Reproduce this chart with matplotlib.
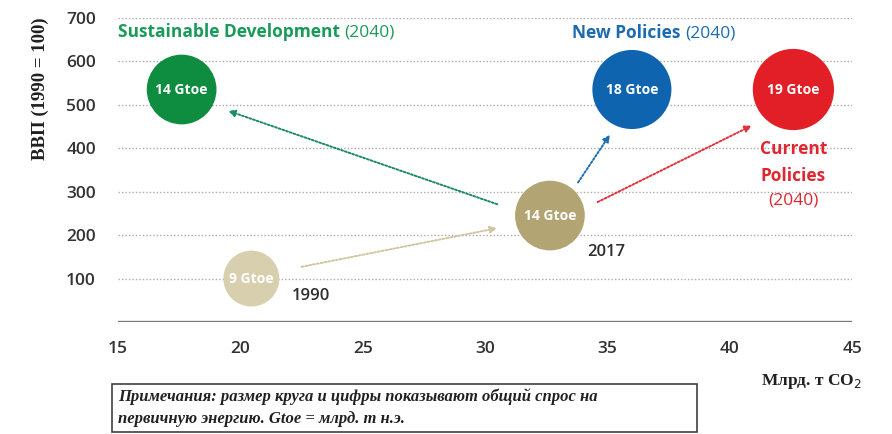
"""Энергетические сценарии: ВВП против выбросов CO2"""

import matplotlib.pyplot as plt
from matplotlib.patches import Rectangle

# точки: выбросы (млрд. т CO2), ВВП (1990 = 100), спрос на энергию (Gtoe)
names = ['1990', '2017', 'Sustainable', 'New', 'Current']
co2 = [20.45, 32.65, 17.6, 36.0, 42.6]
gdp = [100, 245, 535, 535, 535]
gtoe = [9, 14, 14, 18, 19]
colors = ['#d8cfae', '#b2a473', '#0e8c3f', '#0f64b0', '#e21f26']

# стрелки: (x0, y0) -> (x1, y1)
arrows = [
    ((22.5, 127), (30.5, 216), '#cfc5a0'),
    ((30.5, 271), (19.5, 486), '#1b8a68'),
    ((33.8, 321), (35.1, 431), '#1f6fb0'),
    ((34.6, 276), (40.9, 452), '#e0303a'),
]

x_ticks = [15, 20, 25, 30, 35, 40, 45]
y_ticks = [100, 200, 300, 400, 500, 600, 700]

sans = ['Open Sans', 'DejaVu Sans']
serif = ['Liberation Serif', 'DejaVu Serif']


def scenario_label(x, y, bold_part, color, ha='left'):
    """Жирное название сценария и обычное '(2040)' сразу за ним"""
    t = ax.text(x, y, bold_part + ' ', color=color, fontsize=12.5, fontweight='bold',
                family=sans, va='center', ha=ha)
    ax.annotate('(2040)', xy=(1, 0.5), xycoords=t, color=color, fontsize=12.5,
                family=sans, va='center', ha='left')


fig = plt.figure(figsize=(8.92, 4.34), dpi=100)
ax = fig.add_axes([0.1323, 0.258, 0.823, 0.701])
ax.set_xlim(15, 45)
ax.set_ylim(0, 700)

# сетка пунктиром
for y in y_ticks:
    ax.axhline(y, color='#b0a8a8', linestyle=(0, (1, 1.5)), linewidth=1.0, zorder=0)
ax.axhline(0, color='#777777', linewidth=2.4, zorder=1)

for side in ['top', 'right', 'left', 'bottom']:
    ax.spines[side].set_visible(False)
ax.set_xticks(x_ticks)
ax.set_yticks(y_ticks)
ax.tick_params(length=0, labelsize=12.5, colors='#333333', pad=14)
ax.tick_params(axis='y', pad=16)
for lbl in ax.get_xticklabels() + ax.get_yticklabels():
    lbl.set_family(sans)
    lbl.set_fontweight('semibold')

for (x0, y0), (x1, y1), c in arrows:
    ax.annotate('', xy=(x1, y1), xytext=(x0, y0),
                arrowprops=dict(arrowstyle='-|>', color=c, linestyle=(0, (1, 1)),
                                linewidth=1.4, mutation_scale=10,
                                shrinkA=0, shrinkB=0), zorder=2)

ax.scatter(co2, gdp, s=[180 * g for g in gtoe], c=colors, zorder=3, linewidths=0)
for x, y, g in zip(co2, gdp, gtoe):
    ax.text(x, y, f'{g} Gtoe', color='white', ha='center', va='center',
            fontsize=10, fontweight='bold', family=sans, zorder=4)

# подписи сценариев
scenario_label(15.0, 667, 'Sustainable Development', '#1a9a5a')
scenario_label(33.55, 665, 'New Policies', '#1a6bb0')
ax.text(42.6, 397, 'Current', color='#e0262e', fontsize=12.5, fontweight='bold',
        family=sans, ha='center', va='center')
ax.text(42.6, 337, 'Policies', color='#e0262e', fontsize=12.5, fontweight='bold',
        family=sans, ha='center', va='center')
ax.text(42.6, 280, '(2040)', color='#e0262e', fontsize=12.5, family=sans,
        ha='center', va='center')
ax.text(22.9, 60, '1990', color='#2e2e2e', fontsize=12, fontweight='semibold',
        family=sans, ha='center', va='center')
ax.text(34.95, 160, '2017', color='#2e2e2e', fontsize=12, fontweight='semibold',
        family=sans, ha='center', va='center')

fig.text(0.045, 0.795, 'ВВП (1990 = 100)', rotation=90, ha='center', va='center',
         fontsize=13.5, fontweight='bold', family=serif, color='#202020')
fig.text(0.966, 0.12, 'Млрд. т CO$_2$', ha='right', va='center', fontsize=12.5,
         fontweight='bold', family=serif, color='#202020')

# примечание в рамке
fig.patches.append(Rectangle((112 / 892, 2 / 434), 585 / 892, 48 / 434,
                             transform=fig.transFigure, fill=False,
                             edgecolor='#404040', linewidth=1.2))
fig.text(118 / 892, 1 - 397 / 434,
         'Примечания: размер круга и цифры показывают общий спрос на',
         fontsize=12, fontweight='bold', style='italic', family=serif,
         va='center', color='#202020')
fig.text(118 / 892, 1 - 419 / 434, 'первичную энергию. Gtoe = млрд. т н.э.',
         fontsize=12, fontweight='bold', style='italic', family=serif,
         va='center', color='#202020')

fig.savefig('out.png', dpi=100)
